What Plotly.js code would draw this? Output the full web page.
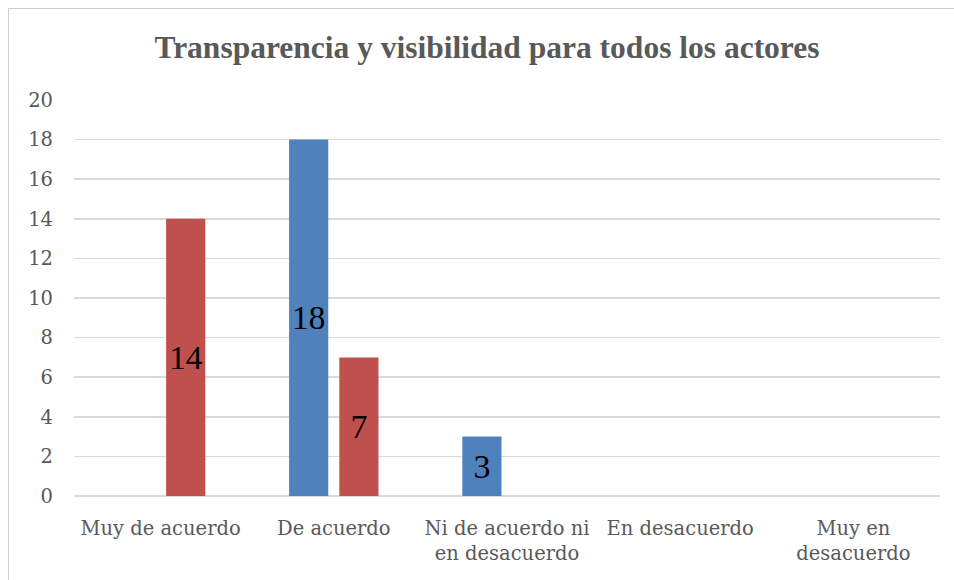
<!DOCTYPE html>
<html><head><meta charset="utf-8">
<script src="https://cdn.plot.ly/plotly-3.0.1.min.js"></script>
<style>
html,body{margin:0;padding:0;background:#fff;}
#frame{position:absolute;left:8px;top:8px;width:960px;height:590px;border:1.5px solid #d0d0d0;box-sizing:border-box;}
#chart{position:absolute;left:0;top:0;width:954px;height:580px;}
</style></head>
<body>
<div id="frame"></div>
<div id="chart"></div>
<script>
const categories = ["Muy de acuerdo", "De acuerdo", "Ni de acuerdo ni<br>en desacuerdo", "En desacuerdo", "Muy en<br>desacuerdo"];
const blueValues = [0, 18, 3, 0, 0];
const redValues = [14, 7, 0, 0, 0];
const yTicks = [0, 2, 4, 6, 8, 10, 12, 14, 16, 18, 20];

function labels(vals){ return vals.map(v => v > 0 ? String(v) : ""); }

const labelFont = {family: "Liberation Serif, Times New Roman, serif", size: 34, color: "#000"};
const traces = [
  {type: "bar", x: categories, y: blueValues, text: labels(blueValues), textposition: "inside",
   insidetextanchor: "middle", textfont: labelFont, marker: {color: "#4f81bd"}, cliponaxis: false, hoverinfo: "none"},
  {type: "bar", x: categories, y: redValues, text: labels(redValues), textposition: "inside",
   insidetextanchor: "middle", textfont: labelFont, marker: {color: "#c0504d"}, cliponaxis: false, hoverinfo: "none"}
];
const tickFont = {family: "DejaVu Serif, serif", size: 19.5, color: "#595959"};
const layout = {
  width: 954, height: 580,
  margin: {l: 74, r: 14, t: 100, b: 84},
  paper_bgcolor: "rgba(0,0,0,0)", plot_bgcolor: "rgba(0,0,0,0)",
  showlegend: false,
  barmode: "group", bargap: 0.42, bargroupgap: 0.22,
  title: {text: "<b>Transparencia y visibilidad para todos los actores</b>", x: 487/954, xanchor: "center",
          y: 1 - 47/580, yanchor: "middle", yref: "container",
          font: {family: "Liberation Serif, Times New Roman, serif", size: 31.5, color: "#595959"}},
  xaxis: {type: "category", tickfont: tickFont, showgrid: false, showline: false, zeroline: false, ticks: "", ticklabelstandoff: 18},
  yaxis: {range: [0, 20], tickvals: yTicks, ticktext: yTicks.map(String), tickfont: tickFont,
          showgrid: true, gridcolor: "#d9d9d9", gridwidth: 1.5, zeroline: true, zerolinecolor: "#d9d9d9", zerolinewidth: 1.5,
          showline: false, ticks: "", ticklabelstandoff: 20}
};
Plotly.newPlot("chart", traces, layout, {displayModeBar: false, staticPlot: true});
</script>
</body></html>
